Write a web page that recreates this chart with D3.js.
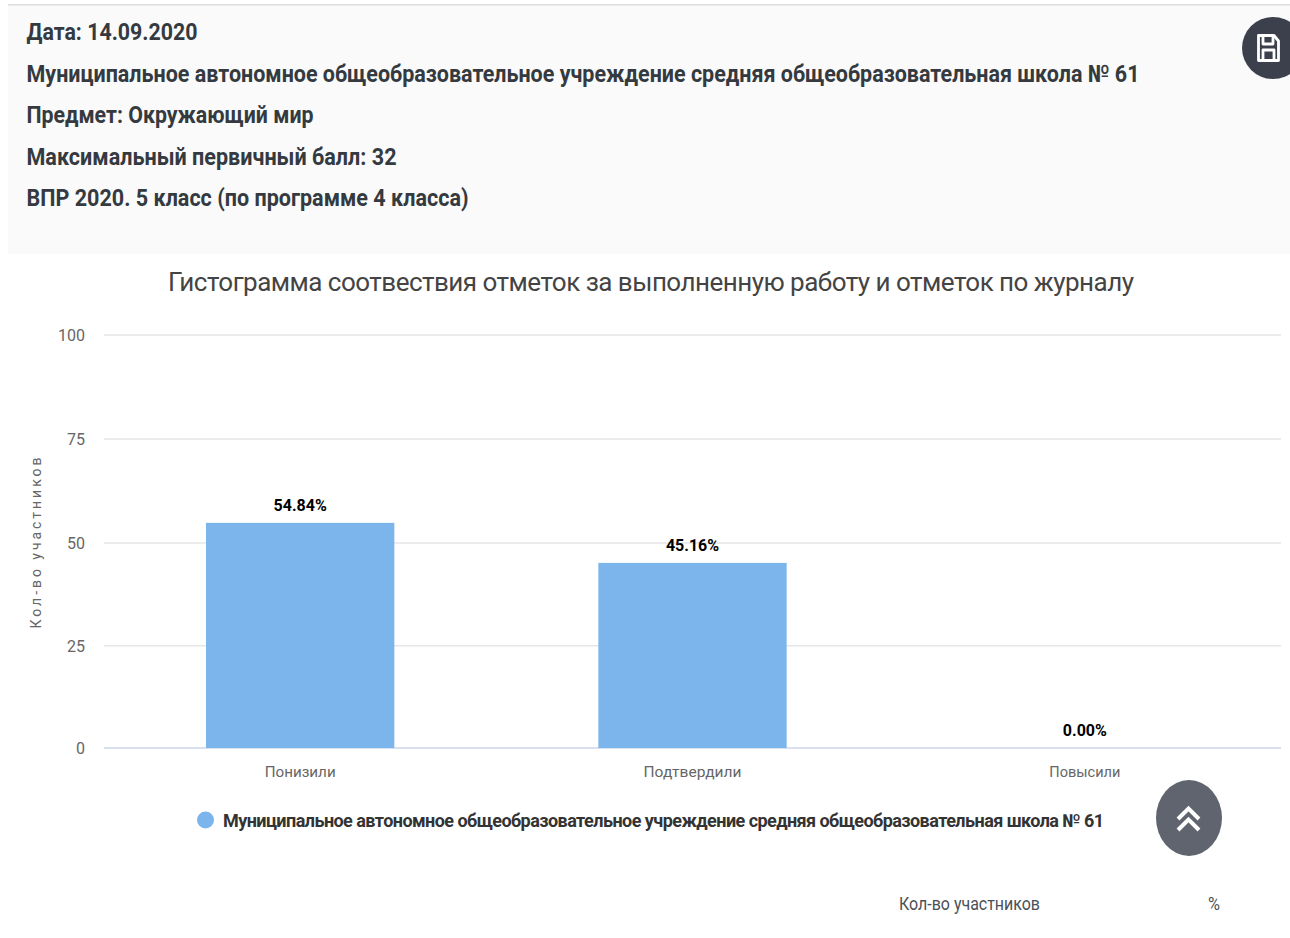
<!DOCTYPE html>
<html><head><meta charset="utf-8">
<script src="https://cdnjs.cloudflare.com/ajax/libs/d3/7.8.5/d3.min.js"></script>
<style>html,body{margin:0;padding:0;background:#fff;overflow:hidden}svg{display:block}text{font-family:Roboto,sans-serif}</style>
</head><body><svg id="c" width="1290" height="938"></svg>
<script>
const infoLines = ["Дата: 14.09.2020","Муниципальное автономное общеобразовательное учреждение средняя общеобразовательная школа № 61","Предмет: Окружающий мир","Максимальный первичный балл: 32","ВПР 2020. 5 класс (по программе 4 класса)"];
const chartTitle = "Гистограмма соотвествия отметок за выполненную работу и отметок по журналу";
const categories = ["Понизили","Подтвердили","Повысили"];
const values = [54.84,45.16,0];
const valueLabels = ["54.84%","45.16%","0.00%"];
const yTicks = [0,25,50,75,100];
const yTitle = "Кол-во участников";
const legendName = "Муниципальное автономное общеобразовательное учреждение средняя общеобразовательная школа № 61";
const tableHeads = ["Кол-во участников","%"];

const svg = d3.select("#c");
svg.append("rect").attr("x",8).attr("y",5).attr("width",1282).attr("height",249).attr("fill","#fafafa");
svg.append("rect").attr("x",8).attr("y",4).attr("width",1282).attr("height",1.5).attr("fill","#dcdcdc");
const infoY = d3.scalePoint().domain(d3.range(infoLines.length)).range([31.5,197.5]);
svg.selectAll(".info").data(infoLines).join("text").attr("class","info")
  .attr("x",26.5).attr("y",(d,i)=>infoY(i)).attr("dy","0.36em")
  .attr("font-size",24).attr("font-weight",700).attr("fill","#343a40")
  .attr("textLength",(d,i)=>[171,1113,287,370,442][i]).attr("lengthAdjust","spacingAndGlyphs").text(d=>d);

svg.append("text").attr("x",651).attr("y",282).attr("dy","0.36em").attr("text-anchor","middle")
  .attr("font-size",26).attr("fill","#444").attr("textLength",966).attr("lengthAdjust","spacing").text(chartTitle);

const x = d3.scaleBand().domain(categories).range([104,1281]).paddingInner(0.52).paddingOuter(0.26);
// the reference picture is slightly unevenly stretched, so the axis is fitted tick by tick
const y = d3.scaleLinear().domain(yTicks).range([748,645.7,543,439,335]);

svg.selectAll(".grid").data(yTicks.filter(t=>t>0)).join("line").attr("class","grid")
  .attr("x1",104).attr("x2",1281).attr("y1",d=>y(d)).attr("y2",d=>y(d))
  .attr("stroke","#e6e6e6").attr("stroke-width",1.5);
svg.append("line").attr("x1",104).attr("x2",1281).attr("y1",y(0)).attr("y2",y(0)).attr("stroke","#ccd6eb").attr("stroke-width",1.5);
svg.selectAll(".yl").data(yTicks).join("text").attr("class","yl")
  .attr("x",85).attr("y",d=>y(d)+0.5).attr("dy","0.36em").attr("text-anchor","end")
  .attr("font-size",16).attr("fill","#666").text(d=>d);
svg.append("text").attr("transform","translate(36,543) rotate(-90)").attr("dy","0.36em").attr("text-anchor","middle")
  .attr("font-size",14).attr("fill","#666").attr("textLength",171).attr("lengthAdjust","spacing").text(yTitle);

svg.selectAll(".bar").data(values).join("rect").attr("class","bar")
  .attr("x",(d,i)=>x(categories[i])).attr("width",x.bandwidth())
  .attr("y",d=>y(d)).attr("height",d=>y(0)-y(d)).attr("fill","#7cb5ec");
svg.selectAll(".vl").data(values).join("text").attr("class","vl")
  .attr("x",(d,i)=>x(categories[i])+x.bandwidth()/2).attr("y",d=>y(d)-18).attr("dy","0.36em").attr("text-anchor","middle")
  .attr("font-size",16).attr("font-weight",700).attr("fill","#000").text((d,i)=>valueLabels[i]);
svg.selectAll(".xl").data(categories).join("text").attr("class","xl")
  .attr("x",d=>x(d)+x.bandwidth()/2).attr("y",771).attr("dy","0.36em").attr("text-anchor","middle")
  .attr("font-size",15.5).attr("fill","#666").attr("textLength",(d,i)=>[71,98,71][i]).attr("lengthAdjust","spacingAndGlyphs").text(d=>d);

svg.append("circle").attr("cx",205.5).attr("cy",820).attr("r",8.5).attr("fill","#7cb5ec");
svg.append("text").attr("x",223).attr("y",821).attr("dy","0.36em").attr("font-size",18).attr("font-weight",700).attr("fill","#333")
  .attr("textLength",881).attr("lengthAdjust","spacing").text(legendName);

// save button
svg.append("circle").attr("cx",1273).attr("cy",48).attr("r",31).attr("fill","#3c404d");
const s = svg.append("g").attr("transform","translate(1257,34)").attr("fill","none").attr("stroke","#fff").attr("stroke-width",2.8).attr("stroke-linejoin","round");
s.append("path").attr("d","M1.5 1.5H17L21.5 7V26.5H1.5Z");
s.append("path").attr("d","M6 1.5V10H16V1.5M6 26.5V16H17V26.5");

// back to top
svg.append("ellipse").attr("cx",1189).attr("cy",818).attr("rx",33).attr("ry",38).attr("fill","#5f646e");
svg.append("path").attr("d","M1178 819L1188.5 808.5L1199 819M1178 830L1188.5 819.5L1199 830").attr("fill","none").attr("stroke","#fff").attr("stroke-width",4);

svg.selectAll(".th").data(tableHeads).join("text").attr("class","th")
  .attr("x",(d,i)=>[969.5,1214][i]).attr("y",903).attr("dy","0.36em").attr("text-anchor","middle")
  .attr("font-size",19).attr("fill","#495057").attr("textLength",(d,i)=>[141,12][i]).attr("lengthAdjust","spacingAndGlyphs").text(d=>d);
</script></body></html>
